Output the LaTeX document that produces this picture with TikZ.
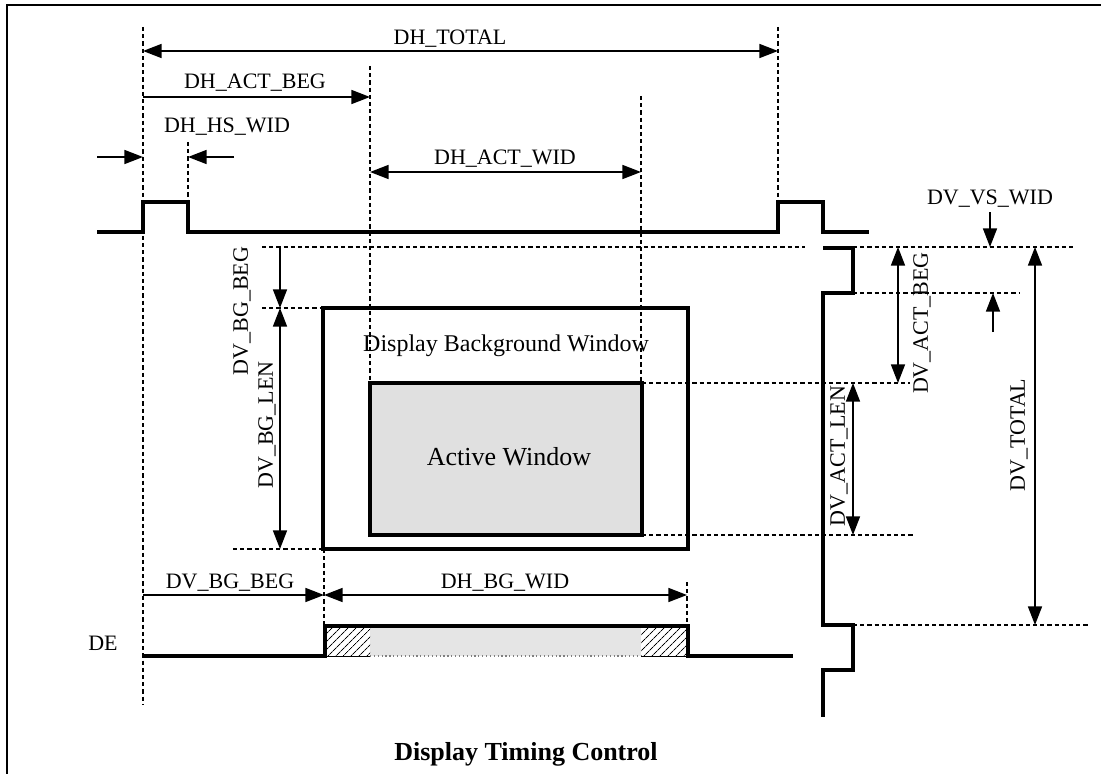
\documentclass[tikz,border=0pt]{standalone}
\usepackage{fontspec}
\setmainfont{Liberation Serif}
\usetikzlibrary{arrows.meta, patterns.meta}

\begin{document}
\begin{tikzpicture}[x=0.75pt, y=-0.75pt,
  >={Triangle[length=14pt, width=10.5pt]},
  sig/.style={line width=2.7pt},
  win/.style={line width=2.4pt},
  guide/.style={line width=1pt, dash pattern=on 3.2pt off 2.2pt},
  dim/.style={line width=1.3pt},
  lbl/.style={font=\fontsize{16.5}{18}\selectfont, inner sep=0pt},
  hatch/.style={pattern={Lines[angle=45, distance=4pt, line width=0.7pt]}},
]
  \useasboundingbox (0,0) rectangle (1101,774);
  % frame
  \draw[line width=1.8pt] (7,774) -- (7,5) -- (1101,5);

  % windows
  \fill[black!12] (370,383) rectangle (642,535);
  \draw[win] (323,308) rectangle (688,549);
  \draw[win] (370,383) rectangle (642,535);
  \node[font=\fontsize{18}{20}\selectfont, inner sep=0pt] (bgname) at (506,346) {Display Background Window};
  \node[font=\fontsize{19.5}{22}\selectfont, inner sep=0pt] (actname) at (509,457) {Active Window};

  % guides
  \draw[guide] (143,27) -- (143,705);
  \draw[guide] (188,142) -- (188,202);
  \draw[guide] (370,66) -- (370,383);
  \draw[guide] (641,96) -- (641,383);
  \draw[guide] (778,27) -- (778,202);
  \draw[guide] (324,549) -- (324,626);
  \draw[guide] (687,582) -- (687,626);
  \draw[guide] (262,247) -- (805,247);
  \draw[guide] (853,247) -- (1073,247);
  \draw[guide] (262,308) -- (323,308);
  \draw[guide] (853,293) -- (1020,293);
  \draw[guide] (642,383) -- (910,383);
  \draw[guide] (642,535) -- (915,535);
  \draw[guide] (233,549) -- (323,549);
  \draw[guide] (853,625) -- (1090,625);

  % HS / VS signals
  \draw[sig] (97,232) -- (143,232) -- (143,202) -- (188,202) -- (188,232)
    -- (778,232) -- (778,202) -- (823,202) -- (823,232) -- (869,232);
  \draw[sig] (823,248) -- (853,248) -- (853,293) -- (823,293) -- (823,625)
    -- (853,625) -- (853,670) -- (823,670) -- (823,717);

  % DE signal
  \fill[black!10] (370,626) rectangle (641,656);
  \draw[gray, line width=0.9pt, dotted] (370,656) -- (641,656);
  \fill[hatch] (325,626) rectangle (370,656);
  \fill[hatch] (641,626) rectangle (688,656);
  \draw[line width=0.7pt] (325,656) -- (370,656) (641,656) -- (688,656);
  \draw[sig] (143,656) -- (325,656) -- (325,626) -- (688,626) -- (688,656) -- (793,656);
  \node[lbl] (de) at (103,643) {DE};

  % horizontal dimensions
  \coordinate (tot-l) at (143,51);
  \coordinate (tot-r) at (778,51);
  \draw[dim, <->] (tot-l) -- (tot-r);
  \node[lbl] (dhtotal) at (450,39) {DH\_TOTAL};

  \coordinate (actbeg-l) at (143,97);
  \coordinate (actbeg-r) at (370,97);
  \draw[dim, ->] (actbeg-l) -- (actbeg-r);
  \node[lbl] (dhactbeg) at (255,83) {DH\_ACT\_BEG};

  \coordinate (hs-a) at (97,157);
  \coordinate (hs-b) at (143,157);
  \coordinate (hs-c) at (188,157);
  \coordinate (hs-d) at (234,157);
  \draw[dim, ->] (hs-a) -- (hs-b);
  \draw[dim, ->] (hs-d) -- (hs-c);
  \node[lbl] (dhhswid) at (227,127) {DH\_HS\_WID};

  \coordinate (actwid-l) at (370,172);
  \coordinate (actwid-r) at (641,172);
  \draw[dim, <->] (actwid-l) -- (actwid-r);
  \node[lbl] (dhactwid) at (505,159) {DH\_ACT\_WID};

  \coordinate (bgbeg-l) at (143,595);
  \coordinate (bgbeg-r) at (324,595);
  \coordinate (bgwid-r) at (687,595);
  \draw[dim, ->] (bgbeg-l) -- (bgbeg-r);
  \draw[dim, <->] (bgbeg-r) -- (bgwid-r);
  \node[lbl] (dvbgbegh) at (230,583) {DV\_BG\_BEG};
  \node[lbl] (dhbgwid) at (505,583) {DH\_BG\_WID};

  % vertical dimensions
  \coordinate (bgv-t) at (280,247);
  \coordinate (bgv-m) at (280,308);
  \coordinate (bgv-b) at (280,549);
  \draw[dim, ->] (bgv-t) -- (bgv-m);
  \draw[dim, <->] (bgv-m) -- (bgv-b);
  \node[lbl, rotate=90] (dvbgbeg) at (242,311) {DV\_BG\_BEG};
  \node[lbl, rotate=90] (dvbglen) at (267,425) {DV\_BG\_LEN};

  \coordinate (vsw-a) at (990,212);
  \coordinate (vsw-b) at (990,247);
  \coordinate (vsw-c) at (993,332);
  \coordinate (vsw-d) at (993,293);
  \draw[dim, ->] (vsw-a) -- (vsw-b);
  \draw[dim, ->] (vsw-c) -- (vsw-d);
  \node[lbl] (dvvswid) at (990,199) {DV\_VS\_WID};

  \coordinate (actbv-t) at (898,247);
  \coordinate (actbv-b) at (898,383);
  \draw[dim, <->] (actbv-t) -- (actbv-b);
  \node[lbl, rotate=90] (dvactbeg) at (922,323) {DV\_ACT\_BEG};

  \coordinate (actlen-t) at (853,383);
  \coordinate (actlen-b) at (853,535);
  \draw[dim, <->] (actlen-t) -- (actlen-b);
  \node[lbl, rotate=90] (dvactlen) at (839,456) {DV\_ACT\_LEN};

  \coordinate (vtot-t) at (1035,247);
  \coordinate (vtot-b) at (1035,625);
  \draw[dim, <->] (vtot-t) -- (vtot-b);
  \node[lbl, rotate=90] (dvtotal) at (1019,435) {DV\_TOTAL};

  \node[font=\bfseries\fontsize{19.5}{22}\selectfont, inner sep=0pt] (title) at (526,754) {Display Timing Control};
\end{tikzpicture}
\end{document}
